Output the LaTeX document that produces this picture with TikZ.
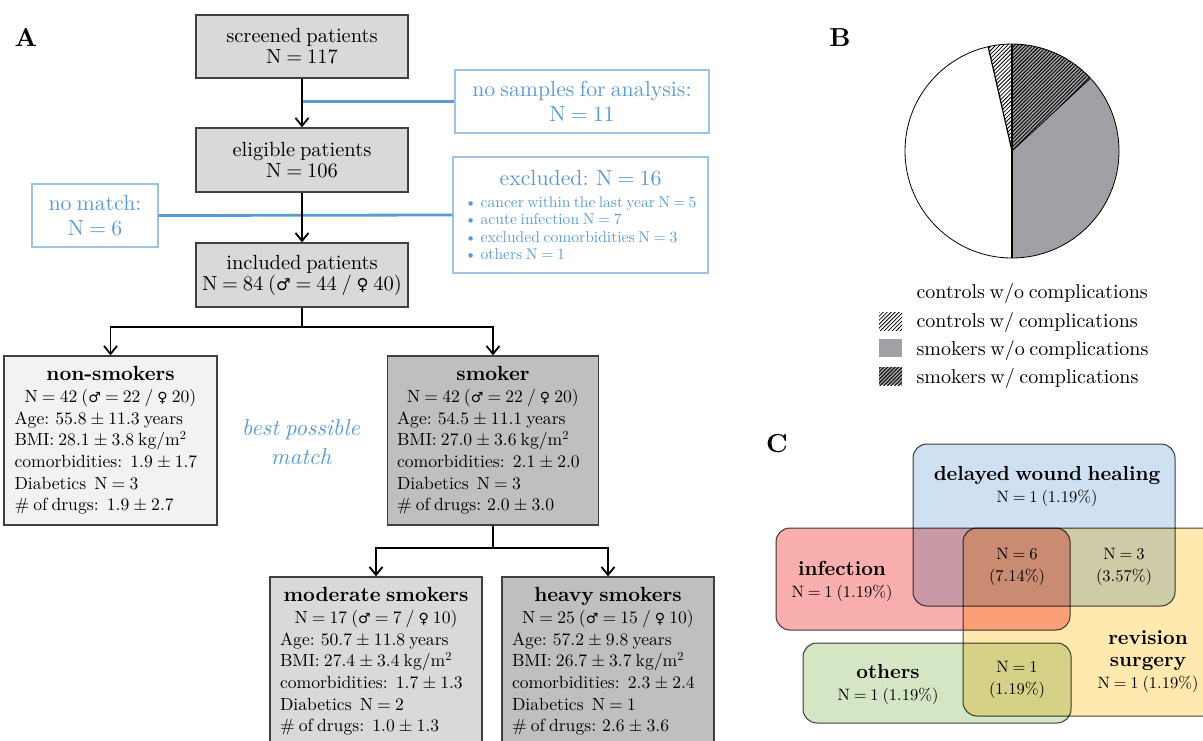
\documentclass[tikz,border=0pt]{standalone}
\usepackage{fontspec}
\setmainfont{lmroman10-regular}[Extension=.otf, BoldFont=lmroman10-bold, ItalicFont=lmroman10-italic, BoldItalicFont=lmroman10-bolditalic, WordSpace=0.7]
\newfontfamily\symfont{DejaVu Sans}[Scale=0.8]
\usetikzlibrary{arrows.meta,patterns.meta}
\definecolor{boxline}{HTML}{404040}
\definecolor{lightfill}{HTML}{F2F2F2}
\definecolor{midfill}{HTML}{D9D9D9}
\definecolor{darkfill}{HTML}{BFBFBF}
\definecolor{textblue}{HTML}{5B9BD5}
\definecolor{frameblue}{HTML}{9DC3E6}
\definecolor{piegray}{HTML}{A0A0A5}
\definecolor{vennblue}{HTML}{CEE0F2}
\definecolor{vennred}{HTML}{FAAFAF}
\definecolor{vennyellow}{HTML}{FFE9AF}
\definecolor{venngreen}{HTML}{D5E6C5}
\newcommand{\malesym}{{\symfont ♂}}
\newcommand{\femsym}{{\symfont ♀}}
\begin{document}
\begin{tikzpicture}[x=1pt,y=-1pt,
  graybox/.style={draw=boxline, line width=1.3pt, inner sep=0pt, align=center, font=\fontsize{20.5}{21}\selectfont},
  databox/.style={graybox, minimum width=212, minimum height=169, font=\fontsize{17.6}{21.7}\selectfont},
  bluebox/.style={draw=frameblue, line width=1.2pt, text=textblue, inner sep=0pt, align=center, font=\fontsize{21.8}{25.5}\selectfont},
  arr/.style={line width=1.8pt, -{Straight Barb[length=8pt,width=13pt]}},
  blueline/.style={draw=textblue, line width=2.8pt},
  venn/.style={draw=boxline, line width=1pt, rounded corners=14pt},
  venntext/.style={align=center, font=\fontsize{16.5}{22}\selectfont},
  panel/.style={font=\fontsize{26}{26}\selectfont\bfseries},
  legtext/.style={anchor=west, font=\fontsize{20}{22}\selectfont}]
\useasboundingbox (0,0) rectangle (1203,740);
\clip (0,0) rectangle (1203,740);

% panel A
\node[panel] (labelA) at (26,37) {A};
\node[graybox, fill=midfill, minimum width=212, minimum height=63] (screened) at (302,46.5) {screened patients\\N = 117};
\node[graybox, fill=midfill, minimum width=212, minimum height=64] (eligible) at (302,160) {eligible patients\\N = 106};
\node[graybox, fill=midfill, minimum width=212, minimum height=64] (included) at (302,275) {included patients\\N = 84 (\malesym{} = 44 / \femsym{} 40)};
\node[bluebox, minimum width=254, minimum height=63] (nosamples) at (582,101.5) {no samples for analysis:\\N = 11};
\node[bluebox, minimum width=126, minimum height=63] (nomatch) at (95,215.5) {no match:\\N = 6};
\node[bluebox, minimum width=255, minimum height=116] (excluded) at (580.5,215) {\parbox{232pt}{\centering excluded: N = 16\par\vspace{4.2pt}\raggedright\fontsize{15.6}{17.5}\selectfont
  \textbullet\hspace{4pt}cancer within the last year N = 5\\
  \textbullet\hspace{4pt}acute infection N = 7\\
  \textbullet\hspace{4pt}excluded comorbidities N = 3\\
  \textbullet\hspace{4pt}others N = 1}};
\node[databox, fill=lightfill, minimum width=213] (nonsmokers) at (110.5,440.5) {\parbox{192pt}{\centering{\fontsize{20.5}{21.7}\selectfont\bfseries non-smokers}\\N = 42 (\malesym{} = 22 / \femsym{} 20)\par\raggedright
  Age: 55.8 ± 11.3 years\\
  BMI: 28.1 ± 3.8 kg/m\textsuperscript{2}\\
  comorbidities:\ \ 1.9 ± 1.7\\
  Diabetics\ \ N = 3\\
  \# of drugs:\ \ 1.9 ± 2.7}};
\node[databox, fill=darkfill, minimum width=211] (smoker) at (493,440.5) {\parbox{192pt}{\centering{\fontsize{20.5}{21.7}\selectfont\bfseries smoker}\\N = 42 (\malesym{} = 22 / \femsym{} 20)\par\raggedright
  Age: 54.5 ± 11.1 years\\
  BMI: 27.0 ± 3.6 kg/m\textsuperscript{2}\\
  comorbidities:\ \ 2.1 ± 2.0\\
  Diabetics\ \ N = 3\\
  \# of drugs: 2.0 ± 3.0}};
\node[databox, fill=midfill] (moderate) at (376,661.5) {\parbox{192pt}{\centering{\fontsize{20.5}{21.7}\selectfont\bfseries moderate smokers}\\N = 17 (\malesym{} = 7 / \femsym{} 10)\par\raggedright
  Age: 50.7 ± 11.8 years\\
  BMI: 27.4 ± 3.4 kg/m\textsuperscript{2}\\
  comorbidities:\ \ 1.7 ± 1.3\\
  Diabetics\ \ N = 2\\
  \# of drugs:\ \ 1.0 ± 1.3}};
\node[databox, fill=darkfill] (heavy) at (608,661.5) {\parbox{192pt}{\centering{\fontsize{20.5}{21.7}\selectfont\bfseries heavy smokers}\\N = 25 (\malesym{} = 15 / \femsym{} 10)\par\raggedright
  Age: 57.2 ± 9.8 years\\
  BMI: 26.7 ± 3.7 kg/m\textsuperscript{2}\\
  comorbidities:\ \ 2.3 ± 2.4\\
  Diabetics\ \ N = 1\\
  \# of drugs: 2.6 ± 3.6}};
\node[align=center, text=textblue, font=\fontsize{23}{28.5}\selectfont\itshape] (bestmatch) at (301,442) {best possible\\match};
\draw[blueline] (screened.south |- nosamples.west) -- (nosamples.west);
\draw[blueline] (nomatch.east) -- (excluded.west);
\draw[arr] (screened) -- (eligible);
\draw[arr] (eligible) -- (included);
\draw[arr] (included.south) -- ++(0,19) -| (nonsmokers.north);
\draw[arr] (included.south) -- ++(0,19) -| (smoker.north);
\draw[arr] (smoker.south) -- ++(0,22) -| (moderate.north);
\draw[arr] (smoker.south) -- ++(0,22) -| (heavy.north);

% panel B
\node[panel] (labelB) at (840,38) {B};
\begin{scope}[shift={(1012,151)}]
\fill[white] (0,0) circle (107);
\fill[piegray] (0,0) -- (-42.86:107) arc[start angle=-42.86, end angle=90, radius=107] -- cycle;
\fill[piegray] (0,0) -- (-90:107) arc[start angle=-90, end angle=-42.86, radius=107] -- cycle;
\fill[pattern={Lines[angle=45,distance=2.6pt,line width=0.9pt]}, pattern color=black] (0,0) -- (-90:107) arc[start angle=-90, end angle=-42.86, radius=107] -- cycle;
\fill[pattern={Lines[angle=45,distance=2.8pt,line width=0.8pt]}, pattern color=black] (0,0) -- (-102.86:107) arc[start angle=-102.86, end angle=-90, radius=107] -- cycle;
\draw[line width=0.8pt] (0,0) circle (107);
\draw[line width=0.8pt] (0,0) -- (-42.86:107);
\draw[line width=1.2pt] (0,0) -- (-102.86:107);
\draw[line width=1.6pt] (0,-107) -- (0,107);
\end{scope}
\fill[pattern={Lines[angle=45,distance=2.8pt,line width=0.8pt]}, pattern color=black] (879,312) rectangle (902,330);
\fill[piegray] (879,339) rectangle (902,357);
\fill[piegray] (879,367) rectangle (902,385);
\fill[pattern={Lines[angle=45,distance=2.6pt,line width=0.9pt]}, pattern color=black] (879,367) rectangle (902,385);
\node[legtext] (leg0) at (913,293) {controls w/o complications};
\node[legtext] (leg1) at (913,322) {controls w/ complications};
\node[legtext] (leg2) at (913,350) {smokers w/o complications};
\node[legtext] (leg3) at (913,378) {smokers w/ complications};

% panel C
\node[panel] (labelC) at (777,444) {C};
\begin{scope}[blend mode=multiply]
\draw[venn, fill=vennblue] (913,444) rectangle (1175,606);
\draw[venn, fill=vennred] (776,528) rectangle (1070,630);
\draw[venn, fill=vennyellow] (963,528) rectangle (1222,716);
\draw[venn, fill=venngreen] (803,643) rectangle (1071,723);
\end{scope}
\node[venntext] (healing) at (1047,487) {{\fontsize{20.3}{22}\selectfont\bfseries delayed wound healing}\\N = 1 (1.19\%)};
\node[venntext] (infection) at (842,581) {{\fontsize{20.3}{22}\selectfont\bfseries infection}\\N = 1 (1.19\%)};
\node[venntext] (revision) at (1148,662) {{\fontsize{20.3}{24}\selectfont\bfseries revision}\\{\fontsize{20.3}{24}\selectfont\bfseries surgery}\\N = 1 (1.19\%)};
\node[venntext] (others) at (888,685) {{\fontsize{20.3}{22}\selectfont\bfseries others}\\N = 1 (1.19\%)};
\node[venntext] (triple) at (1017,567) {N = 6\\(7.14\%)};
\node[venntext] (healrev) at (1124,567) {N = 3\\(3.57\%)};
\node[venntext] (othrev) at (1017,680) {N = 1\\(1.19\%)};
\end{tikzpicture}
\end{document}
